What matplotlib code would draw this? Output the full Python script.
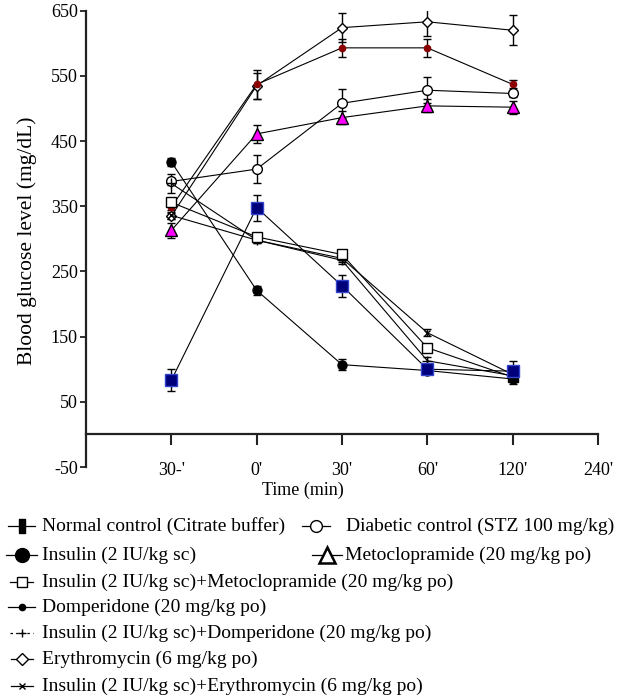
import numpy as np
import matplotlib.pyplot as plt

plt.rcParams['font.family'] = ['Liberation Serif', 'DejaVu Serif']
plt.rcParams['axes.unicode_minus'] = False

# time points (category positions 1..6 on the x axis)
time_labels = ["30-'", "0'", "30'", "60'", "120'", "240'"]
x = np.arange(1, 6)

# mean blood glucose (mg/dL) and error bars
normal = [83, 348, 228, 100, 97]
normal_err = [17, 20, 17, 5, 15]
diabetic = [388, 407, 508, 528, 523]
diabetic_err = [6, 22, 22, 20, 5]
insulin = [418, 221, 107, 98, 85]
insulin_err = [6, 7, 8, 6, 8]
meto = [313, 461, 486, 504, 502]
meto_err = [12, 14, 10, 10, 10]
ins_meto = [356, 303, 276, 133, 88]
ins_meto_err = [5, 5, 5, 5, 5]
domp = [349, 537, 593, 593, 537]
domp_err = [4, 22, 14, 14, 6]
ins_domp = [385, 298, 267, 113, 90]
ins_domp_err = [15, 5, 5, 5, 5]
ery = [335, 535, 624, 633, 620]
ery_err = [5, 20, 22, 22, 23]
ins_ery = [336, 298, 270, 156, 92]
ins_ery_err = [5, 5, 5, 5, 5]

fig = plt.figure(figsize=(6.27, 7), dpi=100)
ax = fig.add_axes([86 / 627, 1 - 467 / 700, (598 - 86) / 627, (467 - 10.7) / 700])

series = [
    (ery, ery_err, dict(marker='D', ms=5, mfc='white', mec='black')),
    (domp, domp_err, dict(marker='o', ms=4.5, mfc='#8b0000', mec='#8b0000')),
    (diabetic, diabetic_err, dict(marker='o', ms=7, mfc='white', mec='black')),
    (meto, meto_err, dict(marker='^', ms=8, mfc='#ff00ff', mec='black')),
    (ins_ery, ins_ery_err, dict(marker='x', ms=5, mfc='black', mec='black')),
    (ins_domp, ins_domp_err, dict(marker='+', ms=7, mfc='black', mec='black')),
    (ins_meto, ins_meto_err, dict(marker='s', ms=7, mfc='white', mec='black')),
    (insulin, insulin_err, dict(marker='o', ms=6.5, mfc='black', mec='black')),
    (normal, normal_err, dict(marker='s', ms=8, mfc='#00007a', mec='#3344cc')),
]
for y, e, st in series:
    ax.errorbar(x, y, yerr=e, color='black', lw=0.8, elinewidth=1, capsize=3,
                capthick=1, **st)

ax.set_xlim(0, 6)
ax.set_ylim(-50, 650)
ax.set_yticks(np.arange(-50, 651, 100))
ax.set_xticks(np.arange(1, 7))
ax.set_xticklabels(time_labels)
for s in ['top', 'right']:
    ax.spines[s].set_visible(False)
ax.spines['bottom'].set_position(('data', 0))
for s in ['left', 'bottom']:
    ax.spines[s].set_linewidth(1.6)
    ax.spines[s].set_color('#222222')
ax.tick_params(axis='y', length=4, width=1.3, labelsize=13, pad=2, color='#222222')
ax.tick_params(axis='x', length=8, width=1.5, labelsize=13, pad=12, color='#222222')

fig.text(303 / 627, 1 - 490 / 700, 'Time (min)', ha='center', va='center', fontsize=13)
fig.text(27 / 627, 1 - 241 / 700, 'Blood glucose level (mg/dL)', rotation=90,
         ha='center', va='center', fontsize=15.5)

# legend drawn in figure pixel coordinates
lax = fig.add_axes([0, 0, 1, 1])
lax.set_xlim(0, 627)
lax.set_ylim(700, 0)
lax.axis('off')

bar = [(-0.5, -1), (0.5, -1), (0.5, 1), (-0.5, 1), (-0.5, -1)]
legend_items = [
    ('Normal control (Citrate buffer)', 8, 35, 526, 42, dict(marker=bar, ms=10, mfc='black', mec='black'), '-'),
    ('Diabetic control (STZ 100 mg/kg)', 302, 330, 526, 346, dict(marker='o', ms=8.5, mfc='white', mec='black'), '-'),
    ('Insulin (2 IU/kg sc)', 6, 37, 555, 42, dict(marker='o', ms=10, mfc='black', mec='black'), '-'),
    ('Metoclopramide (20 mg/kg po)', 312, 342, 555, 345, dict(marker='^', ms=11, mfc='white', mec='black', mew=1.8), '-'),
    ('Insulin (2 IU/kg sc)+Metoclopramide (20 mg/kg po)', 10, 33, 582, 42, dict(marker='s', ms=6.5, mfc='white', mec='black'), '-'),
    ('Domperidone (20 mg/kg po)', 8, 35, 607, 42, dict(marker='o', ms=4.5, mfc='black', mec='black'), '-'),
    ('Insulin (2 IU/kg sc)+Domperidone (20 mg/kg po)', 10, 33, 633, 42, dict(marker='+', ms=6, mfc='black', mec='black'), (0, (2, 2.5))),
    ('Erythromycin (6 mg/kg po)', 11, 33, 659, 42, dict(marker='D', ms=6.5, mfc='white', mec='black'), '-'),
    ('Insulin (2 IU/kg sc)+Erythromycin (6 mg/kg po)', 11, 33, 686, 42, dict(marker='x', ms=4.5, mfc='black', mec='black'), '-'),
]
for label, x0, x1, yy, tx, st, ls in legend_items:
    lax.plot([x0, x1], [yy, yy], color='black', lw=0.9, ls=ls)
    lax.plot([(x0 + x1) / 2], [yy], ls='none', **st)
    lax.text(tx, yy, label, va='center', ha='left', fontsize=14,
             family=['Liberation Serif', 'DejaVu Serif'])

fig.savefig('out.png', dpi=100)
